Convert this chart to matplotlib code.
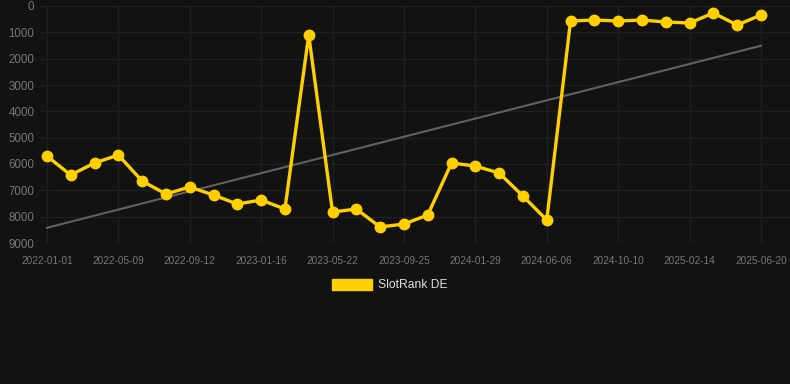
import matplotlib
matplotlib.use("Agg")
import matplotlib.pyplot as plt
from matplotlib.patches import Patch
import numpy as np

plt.rcParams['font.family'] = ['Liberation Sans', 'DejaVu Sans']

# Data (SlotRank DE, lower rank number is better; y axis inverted)
ranks = [5697, 6418, 5963, 5659, 6646, 7140, 6874, 7178, 7520, 7368, 7710,
         1101, 7824, 7710, 8393, 8280, 7938, 5963, 6077, 6343, 7216, 8128,
         570, 532, 570, 532, 608, 646, 266, 722, 342]
tick_labels = ['2022-01-01', '2022-05-09', '2022-09-12', '2023-01-16', '2023-05-22',
               '2023-09-25', '2024-01-29', '2024-06-06', '2024-10-10', '2025-02-14',
               '2025-06-20']
y_ticks = [0, 1000, 2000, 3000, 4000, 5000, 6000, 7000, 8000, 9000]
series_name = 'SlotRank DE'

bg = '#121212'
yellow = '#FFD000'

fig = plt.figure(figsize=(7.9, 3.84), dpi=100, facecolor=bg)
ax = fig.add_axes([40/790, 1-243/384, 750/790, 237/384], facecolor=bg)

x = np.arange(len(ranks))
# trend line (linear regression)
coef = np.polyfit(x, ranks, 1)
ax.plot([x[0], x[-1]], np.polyval(coef, [x[0], x[-1]]), color='#616161', lw=1.5, zorder=2)

ax.plot(x, ranks, color=yellow, lw=2.4, marker='o', markersize=7.5,
        markerfacecolor=yellow, markeredgecolor=yellow, zorder=3,
        solid_joinstyle='miter')

ax.set_ylim(9000, 0)
ax.set_xlim(-0.29, 31.22)
ax.set_yticks(y_ticks)
ax.set_yticklabels([str(v) for v in y_ticks])
ax.set_xticks(np.arange(0, len(ranks), 3))
ax.set_xticklabels(tick_labels)

ax.grid(True, color='#1f1f1f', lw=1.0)
ax.set_axisbelow(True)
for s in ax.spines.values():
    s.set_visible(False)
ax.tick_params(axis='both', length=0, colors='#777777')
ax.tick_params(axis='y', labelsize=8.3, pad=4)
ax.tick_params(axis='x', labelsize=7.2, pad=9)

leg = fig.legend(handles=[Patch(facecolor=yellow, edgecolor=yellow, label=series_name)],
                 loc='center', bbox_to_anchor=(390/790, 1-285/384), frameon=False,
                 handlelength=3.3, handleheight=1.0, handletextpad=0.55,
                 fontsize=8.7, labelcolor='#dddddd')

fig.savefig('out.png', dpi=100, facecolor=bg)
